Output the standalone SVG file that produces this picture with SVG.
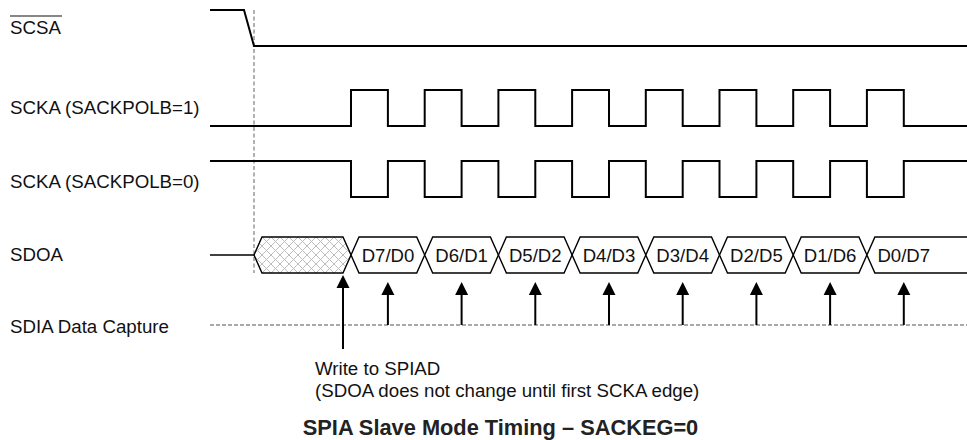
<svg xmlns="http://www.w3.org/2000/svg" width="967" height="440" viewBox="0 0 967 440">
  <style>
    .lbl { font-family: "Liberation Sans", Arial, sans-serif; font-size: 18.7px; fill: #111; }
    .dat { font-family: "Liberation Sans", Arial, sans-serif; font-size: 18.6px; fill: #111; text-anchor: middle; }
    .ttl { font-family: "Liberation Sans", Arial, sans-serif; font-size: 21.8px; font-weight: bold; fill: #222; text-anchor: middle; }
    .sig { fill: none; stroke: #000; stroke-width: 2; stroke-linejoin: miter; }
    .box { fill: #fff; stroke: #000; stroke-width: 1.4; stroke-linejoin: miter; }
    .arr { stroke: #000; stroke-width: 2; fill: none; }
    .head { fill: #000; }
  </style>
  <defs>
    <pattern id="hatch" x="262" y="237" width="9" height="9" patternUnits="userSpaceOnUse">
      <rect width="9" height="9" fill="#fff"/>
      <path d="M0,0 L9,9 M9,0 L0,9" stroke="#bdbdbd" stroke-width="1"/>
    </pattern>
  </defs>
  <rect width="967" height="440" fill="#fff"/>

  <g id="guide">
    <line x1="254" y1="10" x2="254" y2="273" stroke="#888" stroke-width="1.3" stroke-dasharray="4,2.5"/>
  </g>

  <g id="SCSA">
    <text class="lbl" x="10" y="34">SCSA</text>
    <line x1="10" y1="16" x2="62" y2="16" stroke="#111" stroke-width="1.2"/>
    <path class="sig" d="M210,10 H244 L254,46 H967"/>
  </g>

  <g id="SCKA1">
    <text class="lbl" x="10" y="114">SCKA (SACKPOLB=1)</text>
    <path class="sig" d="M210,126 H351 V90 H387.9 V126 H424.7 V90 H461.6 V126 H498.4 V90 H535.3 V126 H572.1 V90 H609 V126 H645.8 V90 H682.7 V126 H719.5 V90 H756.4 V126 H793.2 V90 H830.1 V126 H866.9 V90 H903.8 V126 H967"/>
  </g>

  <g id="SCKA0">
    <text class="lbl" x="10" y="188">SCKA (SACKPOLB=0)</text>
    <path class="sig" d="M210,161 H351 V197 H387.9 V161 H424.7 V197 H461.6 V161 H498.4 V197 H535.3 V161 H572.1 V197 H609 V161 H645.8 V197 H682.7 V161 H719.5 V197 H756.4 V161 H793.2 V197 H830.1 V161 H866.9 V197 H903.8 V161 H967"/>
  </g>

  <g id="SDOA">
    <text class="lbl" x="10" y="261">SDOA</text>
    <line x1="210" y1="255" x2="254" y2="255" stroke="#000" stroke-width="1.4"/>
    <path d="M254,255 L262,237 H343 L351,255 L343,273 H262 Z" fill="url(#hatch)" stroke="#000" stroke-width="1.4"/>
    <path class="box" d="M351,255 L359,237 H416.7 L424.7,255 L416.7,273 H359 Z"/>
    <path class="box" d="M424.7,255 L432.7,237 H490.4 L498.4,255 L490.4,273 H432.7 Z"/>
    <path class="box" d="M498.4,255 L506.4,237 H564.1 L572.1,255 L564.1,273 H506.4 Z"/>
    <path class="box" d="M572.1,255 L580.1,237 H637.8 L645.8,255 L637.8,273 H580.1 Z"/>
    <path class="box" d="M645.8,255 L653.8,237 H711.5 L719.5,255 L711.5,273 H653.8 Z"/>
    <path class="box" d="M719.5,255 L727.5,237 H785.2 L793.2,255 L785.2,273 H727.5 Z"/>
    <path class="box" d="M793.2,255 L801.2,237 H858.9 L866.9,255 L858.9,273 H801.2 Z"/>
    <path class="box" d="M972,237 H874.9 L866.9,255 L874.9,273 H972"/>
    <text class="dat" x="388" y="261.5">D7/D0</text>
    <text class="dat" x="461.6" y="261.5">D6/D1</text>
    <text class="dat" x="535.3" y="261.5">D5/D2</text>
    <text class="dat" x="609" y="261.5">D4/D3</text>
    <text class="dat" x="682.7" y="261.5">D3/D4</text>
    <text class="dat" x="756.4" y="261.5">D2/D5</text>
    <text class="dat" x="830.1" y="261.5">D1/D6</text>
    <text class="dat" x="903.8" y="261.5">D0/D7</text>
  </g>

  <g id="SDIA">
    <text class="lbl" x="10" y="333">SDIA Data Capture</text>
    <line x1="210" y1="325" x2="967" y2="325" stroke="#555" stroke-width="1.2" stroke-dasharray="4,2"/>
  </g>

  <g id="connectors">
    <g>
      <line class="arr" x1="387.9" y1="325" x2="387.9" y2="292"/>
      <polygon class="head" points="387.9,282 381.4,295 394.4,295"/>
      <line class="arr" x1="461.6" y1="325" x2="461.6" y2="292"/>
      <polygon class="head" points="461.6,282 455.1,295 468.1,295"/>
      <line class="arr" x1="535.3" y1="325" x2="535.3" y2="292"/>
      <polygon class="head" points="535.3,282 528.8,295 541.8,295"/>
      <line class="arr" x1="609" y1="325" x2="609" y2="292"/>
      <polygon class="head" points="609,282 602.5,295 615.5,295"/>
      <line class="arr" x1="682.7" y1="325" x2="682.7" y2="292"/>
      <polygon class="head" points="682.7,282 676.2,295 689.2,295"/>
      <line class="arr" x1="756.4" y1="325" x2="756.4" y2="292"/>
      <polygon class="head" points="756.4,282 749.9,295 762.9,295"/>
      <line class="arr" x1="830.1" y1="325" x2="830.1" y2="292"/>
      <polygon class="head" points="830.1,282 823.6,295 836.6,295"/>
      <line class="arr" x1="903.8" y1="325" x2="903.8" y2="292"/>
      <polygon class="head" points="903.8,282 897.3,295 910.3,295"/>
    </g>
    <g id="write-arrow">
      <line class="arr" x1="343" y1="349" x2="343" y2="284"/>
      <polygon class="head" points="343,275 336.5,288 349.5,288"/>
    </g>
  </g>

  <g id="note">
    <text class="lbl" x="315" y="375">Write to SPIAD</text>
    <text class="lbl" x="315" y="397">(SDOA does not change until first SCKA edge)</text>
  </g>

  <text class="ttl" x="500.5" y="435">SPIA Slave Mode Timing – SACKEG=0</text>
</svg>
